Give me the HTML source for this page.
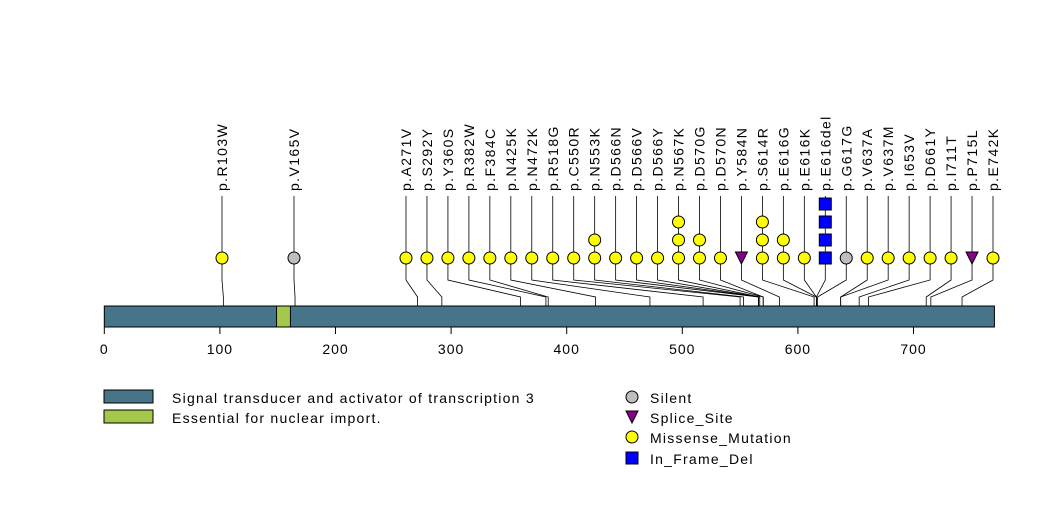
<!DOCTYPE html>
<html><head><meta charset="utf-8"><style>
body{margin:0;background:#fff}
text{font-family:"Liberation Sans",sans-serif}
</style></head><body>
<svg width="1047" height="524" viewBox="0 0 1047 524">
<g id="stems"></g><g id="bar"></g><g id="axis"></g><g id="marks"></g><g id="labels"></g>
<g>
<rect x="104" y="390" width="49" height="13" fill="#46758a" stroke="#000"/>
<text x="172" y="403" font-size="14" letter-spacing="1.25">Signal transducer and activator of transcription 3</text>
<rect x="104" y="410" width="49" height="13" fill="#a3c84a" stroke="#000"/>
<text x="172" y="423" font-size="14" letter-spacing="1.25">Essential for nuclear import.</text>
</g>
<g>
<circle cx="632" cy="397" r="6" fill="#bebebe" stroke="#000"/>
<text x="650" y="403" font-size="14" letter-spacing="1.25">Silent</text>
<polygon points="626,411 638,411 632,423" fill="#8b008b" stroke="#000"/>
<text x="650" y="423" font-size="14" letter-spacing="1.25">Splice_Site</text>
<circle cx="632" cy="437" r="6" fill="#ffff00" stroke="#000"/>
<text x="650" y="443" font-size="14" letter-spacing="1.25">Missense_Mutation</text>
<rect x="626" y="452" width="12" height="12" fill="#0000ff" stroke="#000"/>
<text x="650" y="464" font-size="14" letter-spacing="1.25">In_Frame_Del</text>
</g>
</svg>
<script>
const labels=["p.R103W","p.V165V","p.A271V","p.S292Y","p.Y360S","p.R382W","p.F384C","p.N425K","p.N472K","p.R518G","p.C550R","p.N553K","p.D566N","p.D566V","p.D566Y","p.N567K","p.D570G","p.D570N","p.Y584N","p.S614R","p.E616G","p.E616K","p.E616del","p.G617G","p.V637A","p.V637M","p.I653V","p.D661Y","p.I711T","p.P715L","p.E742K"];
const positions=[103,165,271,292,360,382,384,425,472,518,550,553,566,566,566,567,570,570,584,614,616,616,616,617,637,637,653,661,711,715,742];
const counts=[1,1,1,1,1,1,1,1,1,1,1,2,1,1,1,3,2,1,1,3,2,1,4,1,1,1,1,1,1,1,1];
const types=["M","S","M","M","M","M","M","M","M","M","M","M","M","M","M","M","M","M","P","M","M","M","D","S","M","M","M","M","M","P","M"];
const axisTicks=[0,100,200,300,400,500,600,700];
const proteinLength=770;
const domains=[{name:"nuclear-import",start:149,end:161,color:"#a3c84a"}];
const NS="http://www.w3.org/2000/svg";
const xs=aa=>104.3+aa*1.156;
function mk(tag,attrs,parent){const e=document.createElementNS(NS,tag);for(const k in attrs)e.setAttribute(k,attrs[k]);document.getElementById(parent).appendChild(e);return e;}
const barY=306,barH=21;
let r=mk('rect',{x:xs(0),y:barY,width:xs(proteinLength)-xs(0),height:barH,fill:'#46758a',stroke:'#000'},'bar');


domains.forEach(d=>{const e=mk('rect',{x:xs(d.start),y:barY,width:xs(d.end)-xs(d.start),height:barH,fill:d.color,stroke:'#000'},'bar');

});
axisTicks.forEach(t=>{const l=mk('line',{x1:xs(t),x2:xs(t),y1:barY+barH,y2:334,stroke:'#000'},'axis');


const tx=mk('text',{x:xs(t),y:354,'font-size':14,'letter-spacing':1,'text-anchor':'middle'},'axis');tx.textContent=t;

});
const n=labels.length;
const lx=i=>i===0?222:i===1?294:406+(i-2)*(993-406)/(n-3);
const baseY=258,step=18,colors={M:'#ffff00',S:'#bebebe',P:'#8b008b',D:'#0000ff'};
for(let i=0;i<n;i++){const L=lx(i),A=xs(positions[i]);
const s=mk('polyline',{points:`${L},196 ${L},${baseY} ${L},280 ${A},297 ${A},${barY+barH}`,fill:'none',stroke:'#000','stroke-width':0.8},'stems');


for(let k=0;k<counts[i];k++){const y=baseY-k*step;let m;
if(types[i]==='D')m=mk('rect',{x:L-6,y:y-6,width:12,height:12,fill:colors.D,stroke:'#000'},'marks');
else if(types[i]==='P')m=mk('polygon',{points:`${L-6},${y-6} ${L+6},${y-6} ${L},${y+6}`,fill:colors.P,stroke:'#000'},'marks');
else m=mk('circle',{cx:L,cy:y,r:6,fill:colors[types[i]],stroke:'#000'},'marks');

}
const t=mk('text',{x:0,y:0,'font-size':14,'letter-spacing':1.4,transform:`translate(${L+5},191) rotate(-90)`},'labels');t.textContent=labels[i];

}
</script>
</body></html>
